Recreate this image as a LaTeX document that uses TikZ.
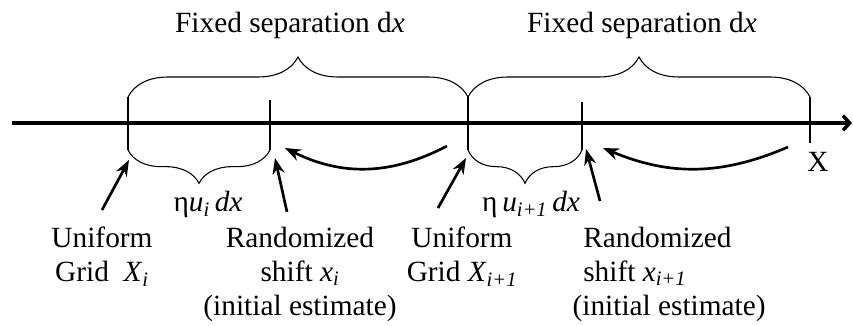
\documentclass[tikz,border=0pt]{standalone}
\usepackage{fontspec}
\setmainfont{Liberation Serif}
\usetikzlibrary{arrows.meta,decorations.pathreplacing}

\newcommand{\isub}[1]{\textsubscript{\itshape #1}}

\begin{document}
\begin{tikzpicture}[x=0.75pt,y=0.75pt,
    every node/.style={font=\fontsize{22}{25.5}\selectfont,inner sep=0pt},
    upbrace/.style={decorate,decoration={brace,amplitude=30pt}},
    lowbrace/.style={decorate,decoration={brace,amplitude=25pt}},
    pointer/.style={line width=2pt,-{Stealth[length=12pt,width=9pt]}}]

\useasboundingbox (0,0) rectangle (853,325);

% axis
\coordinate (start) at (12,202);
\coordinate (end) at (852,202);
\draw[line width=2.6pt,-{Straight Barb[length=5pt,width=11pt]}] (start) -- (end);

% ticks: top and bottom ends
\coordinate (t1) at (128,228);
\coordinate (b1) at (128,175);
\coordinate (t2) at (270,225);
\coordinate (b2) at (270,175);
\coordinate (t3) at (468,228);
\coordinate (b3) at (468,175);
\coordinate (t4) at (582,223);
\coordinate (b4) at (582,175);
\coordinate (t5) at (810,228);
\coordinate (b5) at (810,182);

\foreach \i in {1,...,5}
    \draw[line width=0.8pt] (t\i) -- (b\i);

% braces
\draw[upbrace,line width=0.8pt] (t1) -- (t3);
\draw[upbrace,line width=0.8pt] (t3) -- (t5);
\draw[lowbrace,line width=0.8pt] (b2) -- (b1);
\draw[lowbrace,line width=0.8pt] (b4) -- (b3);

\node[anchor=base] (sep1) at (290,292) {Fixed separation d\textit{x}};
\node[anchor=base] (sep2) at (642,292) {Fixed separation d\textit{x}};

\node[anchor=base] (eta1) at (208,113) {η\textit{u}\isub{i}\,\textit{dx}};
\node[anchor=base] (eta2) at (531,113) {η\,\textit{u}\isub{i+1}\,\textit{dx}};

\node[anchor=base] (xlab) at (818,153) {X};

% labels below
\node[anchor=north,align=center] (grid1) at (102,98) {Uniform\\Grid \ \textit{X}\isub{i}};
\node[anchor=north,align=center] (shift1) at (300,98) {Randomized\\shift \textit{x}\isub{i}\\(initial estimate)};
\node[anchor=north,align=center] (grid2) at (462,98) {Uniform\\Grid \textit{X}\isub{i+1}};
\node[anchor=north west,align=left] (shift2) at (583,98) {Randomized\\shift \textit{x}\isub{i+1}\\\hspace*{-8pt}(initial estimate)};

% curved arrows: shift back from the next grid point
\coordinate (c1s) at (447,179);
\coordinate (c1e) at (285,177);
\coordinate (c2s) at (788,178);
\coordinate (c2e) at (603,177);
\draw[pointer] (c1s) to[bend left=27] (c1e);
\draw[pointer] (c2s) to[bend left=23] (c2e);

% straight pointers
\coordinate (p1) at (102,115);
\coordinate (q1) at (129,165);
\coordinate (p2) at (287,113);
\coordinate (q2) at (275,167);
\coordinate (p3) at (438,117);
\coordinate (q3) at (466,167);
\coordinate (p4) at (600,124);
\coordinate (q4) at (586,176);

\foreach \i in {1,...,4}
    \draw[pointer] (p\i) -- (q\i);

\end{tikzpicture}
\end{document}
